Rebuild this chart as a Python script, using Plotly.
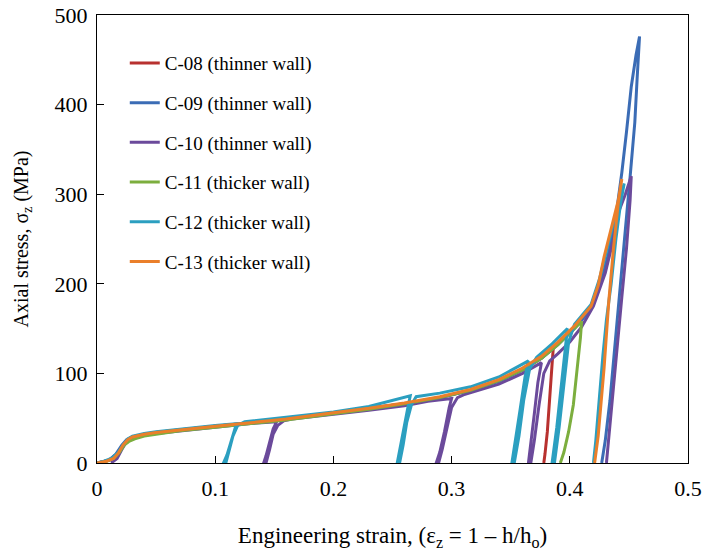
import plotly.graph_objects as go

# ---- data ----
names = ["C-08 (thinner wall)", "C-09 (thinner wall)", "C-10 (thinner wall)",
         "C-11 (thicker wall)", "C-12 (thicker wall)", "C-13 (thicker wall)"]
colors = ["#b8312f", "#3b6cb5", "#6b4a9b", "#7cae3e", "#2b9fc0", "#ea7f2a"]

c08_strain = [0, 0.01, 0.016, 0.021, 0.025, 0.03, 0.04, 0.05, 0.07, 0.1, 0.13, 0.16, 0.2, 0.23, 0.26, 0.29,
              0.316, 0.34, 0.36, 0.376, 0.386, 0.385, 0.383, 0.381, 0.379, 0.378]
c08_stress = [0, 3, 9, 18, 25, 29, 32, 34, 37, 41, 45, 49, 56, 61, 66, 73,
              81, 92, 104, 117, 128, 110, 70, 35, 10, 0]

c09_strain = [0, 0.01, 0.016, 0.021, 0.025, 0.03, 0.04, 0.05, 0.07, 0.1, 0.13, 0.16, 0.2, 0.23, 0.26, 0.29,
              0.316, 0.34, 0.36, 0.376, 0.39, 0.404, 0.418, 0.426, 0.433, 0.439, 0.444, 0.448, 0.452, 0.456,
              0.459, 0.457, 0.455, 0.451, 0.447, 0.443, 0.438, 0.434, 0.43, 0.427]
c09_stress = [0, 3, 10, 20, 26, 29, 32, 34, 37, 41, 45, 49, 56, 61, 66, 73,
              81, 91, 104, 117, 132, 150, 172, 200, 235, 275, 324, 370, 420, 455,
              476, 430, 380, 319, 260, 200, 130, 70, 25, 0]

c10_strain = [0.012, 0.017, 0.021, 0.025, 0.03, 0.04, 0.05, 0.07, 0.1, 0.13, 0.152,
              0.149, 0.146, 0.143, 0.141, 0.143, 0.146, 0.149, 0.153, 0.158, 0.165,
              0.2, 0.23, 0.26, 0.28, 0.3,
              0.298, 0.294, 0.29, 0.287, 0.289, 0.292, 0.296, 0.3, 0.305, 0.31,
              0.34, 0.36, 0.376,
              0.373, 0.37, 0.367, 0.365, 0.367, 0.37, 0.374, 0.378, 0.383,
              0.39, 0.4, 0.41, 0.42, 0.43, 0.437, 0.441, 0.447, 0.452,
              0.451, 0.448, 0.444, 0.441, 0.437, 0.434, 0.431]
c10_stress = [0, 5, 15, 24, 28, 31, 33, 36, 40, 44, 46,
              38, 22, 8, 0, 0, 15, 32, 42, 47, 49,
              54, 59, 64, 69, 72,
              62, 35, 12, 0, 0, 15, 40, 62, 73, 76,
              88, 100, 112,
              90, 55, 20, 0, 0, 25, 65, 100, 114,
              122, 135, 152, 175, 212, 250, 279, 300, 320,
              293, 240, 185, 143, 85, 40, 0]

c11_strain = [0, 0.008, 0.014, 0.019, 0.023, 0.027, 0.032, 0.04, 0.05, 0.07, 0.1, 0.13, 0.16, 0.2, 0.23,
              0.26, 0.29, 0.316, 0.34, 0.36, 0.376, 0.39, 0.4, 0.41,
              0.409, 0.406, 0.403, 0.399, 0.395, 0.392]
c11_stress = [0, 2, 5, 12, 20, 24, 27, 30, 32, 36, 40, 44, 48, 55, 60,
              66, 73, 81, 92, 104, 117, 132, 145, 158,
              140, 100, 65, 35, 12, 0]

c12_strain = [0, 0.006, 0.012, 0.018, 0.022, 0.026, 0.03, 0.04, 0.05, 0.07, 0.1, 0.118,
              0.116, 0.113, 0.11, 0.107, 0.109, 0.112, 0.115, 0.119, 0.125,
              0.16, 0.2, 0.23, 0.265,
              0.263, 0.26, 0.257, 0.254, 0.256, 0.259, 0.262, 0.266, 0.27,
              0.29, 0.316, 0.34, 0.365,
              0.362, 0.358, 0.354, 0.351, 0.353, 0.357, 0.361, 0.366, 0.372,
              0.385, 0.398,
              0.396, 0.393, 0.389, 0.385, 0.387, 0.391, 0.395, 0.399, 0.404,
              0.418, 0.425, 0.431, 0.437, 0.443, 0.446,
              0.443, 0.439, 0.435, 0.431, 0.428, 0.425, 0.422, 0.42]
c12_stress = [0, 2, 5, 12, 20, 27, 30, 33, 35, 38, 42, 44,
              36, 22, 9, 0, 0, 14, 30, 42, 46,
              51, 57, 63, 75,
              62, 40, 18, 0, 0, 20, 45, 65, 74,
              78, 85, 96, 114,
              95, 60, 25, 0, 0, 30, 70, 105, 118,
              133, 150,
              125, 85, 40, 0, 0, 40, 90, 135, 155,
              177, 205, 238, 268, 297, 312,
              290, 250, 200, 160, 120, 70, 25, 0]

c13_strain = [0, 0.008, 0.014, 0.018, 0.022, 0.026, 0.03, 0.04, 0.05, 0.07, 0.1, 0.13, 0.16, 0.2, 0.23,
              0.26, 0.29, 0.316, 0.34, 0.36, 0.376, 0.39, 0.404, 0.418, 0.424, 0.429, 0.435, 0.441, 0.444,
              0.441, 0.437, 0.433, 0.429, 0.426, 0.424, 0.421]
c13_stress = [0, 2, 5, 11, 20, 26, 29, 32, 34, 37, 41, 45, 49, 56, 61,
              67, 74, 82, 93, 106, 119, 135, 153, 175, 198, 230, 262, 293, 317,
              290, 240, 181, 106, 60, 30, 0]

x_ticks = [0, 0.1, 0.2, 0.3, 0.4, 0.5]
x_tick_labels = ["0", "0.1", "0.2", "0.3", "0.4", "0.5"]
y_ticks = [0, 100, 200, 300, 400, 500]

series = [(c08_strain, c08_stress), (c09_strain, c09_stress), (c10_strain, c10_stress),
          (c11_strain, c11_stress), (c12_strain, c12_stress), (c13_strain, c13_stress)]

fig = go.Figure()
for i, (xs, ys) in enumerate(series):
    fig.add_trace(go.Scatter(x=xs, y=ys, mode="lines", name=names[i], legendgroup=str(i),
                             line=dict(color=colors[i], width=3)))

ff = "Liberation Serif"
fig.update_layout(
    width=703, height=553,
    margin=dict(l=97, r=15, t=15, b=90, autoexpand=False),
    paper_bgcolor="white", plot_bgcolor="white",
    font=dict(family=ff, color="black", size=20),
    showlegend=True,
    legend=dict(x=0.047, y=0.935, xanchor="left", yanchor="top",
                font=dict(family=ff, size=19, color="black"),
                bgcolor="rgba(0,0,0,0)", tracegroupgap=12, itemwidth=30),
    xaxis=dict(range=[0, 0.5], tickvals=x_ticks, ticktext=x_tick_labels, automargin=False,
               showline=True, linecolor="black", linewidth=1, mirror=True,
               ticks="inside", ticklen=7, tickcolor="black", showgrid=False, zeroline=False,
               tickfont=dict(family=ff, size=22, color="black"), ticklabelstandoff=6,
               title=dict(text="Engineering strain, (ε<sub>z</sub> = 1 – h/h<sub>o</sub>)",
                          font=dict(family=ff, size=23, color="black"), standoff=26)),
    yaxis=dict(range=[0, 500], tickvals=y_ticks, automargin=False,
               showline=True, linecolor="black", linewidth=1, mirror=True,
               ticks="inside", ticklen=7, tickcolor="black", showgrid=False, zeroline=False,
               tickfont=dict(family=ff, size=22, color="black"), ticklabelstandoff=4,
               title=dict(text="Axial stress, σ<sub>z</sub> (MPa)",
                          font=dict(family=ff, size=20, color="black"), standoff=20)),
)

fig.write_html("out.html", config={"displayModeBar": False},
               post_script="document.body.style.margin='0';")
